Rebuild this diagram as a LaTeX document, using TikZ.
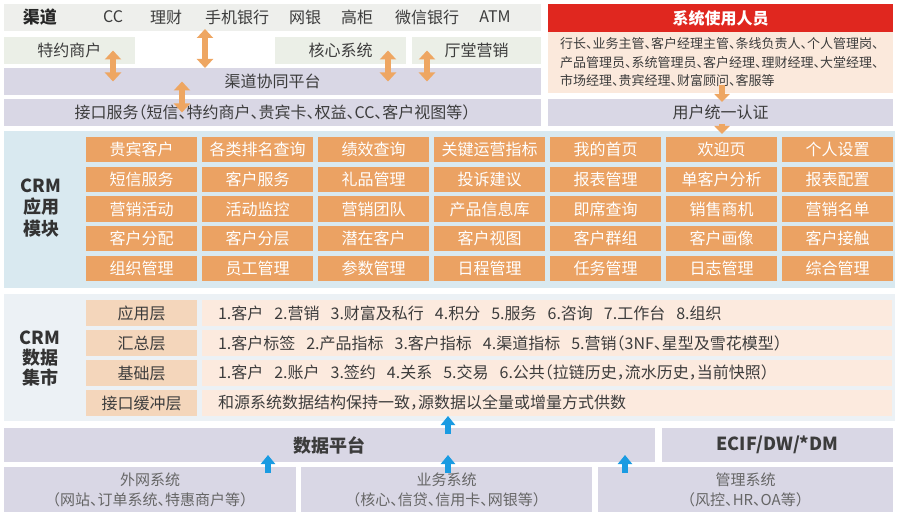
\documentclass[tikz,border=0pt]{standalone}
\usepackage{fontspec}
\setmainfont{Noto Sans CJK SC}[RawFeature={+halt}]
\usepackage{xcolor}
\usepackage{tikz}
\usetikzlibrary{positioning,arrows.meta}

\definecolor{chgray}{HTML}{EEEFEC}
\definecolor{chgreen}{HTML}{EBEFE7}
\definecolor{lav}{HTML}{D9D7E5}
\definecolor{userred}{HTML}{E0271F}
\definecolor{beige}{HTML}{FBE9DC}
\definecolor{cellorg}{HTML}{EBA263}
\definecolor{orarr}{HTML}{EEA662}
\definecolor{modbg}{HTML}{D9E9F0}
\definecolor{martbg}{HTML}{ECF1F5}
\definecolor{lyrlbl}{HTML}{F4D6BB}
\definecolor{lyrcnt}{HTML}{FCEADE}
\definecolor{bluearr}{HTML}{1A9BE2}
\definecolor{txt}{HTML}{3C3C3C}
\definecolor{softtxt}{HTML}{666666}

\newcommand{\gap}{\hspace{11pt}}

\begin{document}
\begin{tikzpicture}[x=1pt, y=-1pt,
    every node/.style={inner sep=0pt, outer sep=0pt, text=txt, font=\fontsize{16}{18}\selectfont},
    panel/.style={anchor=north west, fill=#1},
    cell/.style={anchor=north west, fill=cellorg, minimum width=111, minimum height=25, text=white},
    lyr/.style={anchor=north west, fill=lyrlbl, minimum width=111, minimum height=26},
    lyrtext/.style={anchor=north west, fill=lyrcnt, minimum height=26, text width=658, inner xsep=16pt, align=left},
    sidelabel/.style={font=\bfseries\fontsize{18}{21.5}\selectfont, align=center, text=black!80},
    oarr/.style={draw=orarr, line width=6pt, {Triangle[width=16pt,length=9pt]}-{Triangle[width=16pt,length=9pt]}},
    odn/.style={draw=orarr, line width=6pt, -{Triangle[width=15pt,length=8pt]}},
    bup/.style={draw=bluearr, line width=6pt, -{Triangle[width=14pt,length=9pt]}}]

    \useasboundingbox (0,0) rectangle (900,516);

    % channels
    \node[panel=chgray, minimum width=537, minimum height=27] (qd) at (4,4) {};
    \node[font=\bfseries\fontsize{17}{19}\selectfont, text=black!85] (qdname) at (40,17) {渠道};
    \foreach \t/\x in {CC/113, 理财/166, 手机银行/237, 网银/305, 高柜/357, 微信银行/427, ATM/495}
        \node (ch\x) at (\x,17) {\t};
    \node[panel=chgreen, minimum width=131, minimum height=27] (tysh) at (4,37) {特约商户};
    \node[panel=chgreen, minimum width=131, minimum height=27] (hx) at (275,37) {核心系统};
    \node[panel=chgreen, minimum width=129, minimum height=27] (tt) at (412,37) {厅堂营销};
    \node[panel=lav, minimum width=537, minimum height=27] (xt) at (4,68) {渠道协同平台};
    \node[panel=lav, minimum width=537, minimum height=27] (jk) at (4,99) {接口服务（短信、特约商户、贵宾卡、权益、CC、客户视图等）};

    % users
    \node[panel=userred, minimum width=345, minimum height=28, text=white,
        font=\bfseries\fontsize{16}{18}\selectfont] (usrhead) at (548,4) {系统使用人员};
    \node[panel=beige, minimum height=61, text width=321, inner xsep=12pt, align=left,
        font=\fontsize{13}{18.5}\selectfont] (users) at (548,32)
        {行长、业务主管、客户经理主管、条线负责人、个人管理岗、\\产品管理员、系统管理员、客户经理、理财经理、大堂经理、\\市场经理、贵宾经理、财富顾问、客服等};
    \node[panel=lav, minimum width=345, minimum height=27] (auth) at (548,99) {用户统一认证};

    % CRM modules
    \node[panel=modbg, minimum width=891, minimum height=157] (crm) at (4,131) {};
    \node[sidelabel] (crmname) at (41,208) {CRM\\应用\\模块};
    \foreach \t [count=\i from 0] in {贵宾客户,各类排名查询,绩效查询,关键运营指标,我的首页,欢迎页,个人设置,
        短信服务,客户服务,礼品管理,投诉建议,报表管理,单客户分析,报表配置,
        营销活动,活动监控,营销团队,产品信息库,即席查询,销售商机,营销名单,
        客户分配,客户分层,潜在客户,客户视图,客户群组,客户画像,客户接触,
        组织管理,员工管理,参数管理,日程管理,任务管理,日志管理,综合管理}{
        \pgfmathtruncatemacro{\r}{\i/7}
        \pgfmathtruncatemacro{\c}{mod(\i,7)}
        \node[cell] (m\i) at ({86+116*\c},{137+29.75*\r}) {\t};
    }

    % CRM data mart
    \node[panel=martbg, minimum width=891, minimum height=127] (mart) at (4,294) {};
    \node[sidelabel, font=\bfseries\fontsize{18}{20}\selectfont] (martname) at (40,359) {CRM\\数据\\集市};
    \node[lyr] (l1) at (86,300) {应用层};
    \node[lyr] (l2) at (86,330) {汇总层};
    \node[lyr] (l3) at (86,360) {基础层};
    \node[lyr] (l4) at (86,390) {接口缓冲层};
    \node[lyrtext] (c1) at (202,300) {1.客户\gap 2.营销\gap 3.财富及私行\gap 4.积分\gap 5.服务\gap 6.咨询\gap 7.工作台\gap 8.组织};
    \node[lyrtext] (c2) at (202,330) {1.客户标签\gap 2.产品指标\gap 3.客户指标\gap 4.渠道指标\gap 5.营销（3NF、星型及雪花模型）};
    \node[lyrtext] (c3) at (202,360) {1.客户\gap 2.账户\gap 3.签约\gap 4.关系\gap 5.交易\gap 6.公共（拉链历史，流水历史，当前快照）};
    \node[lyrtext] (buf) at (202,390) {和源系统数据结构保持一致，源数据以全量或增量方式供数};

    % data platform and sources
    \node[panel=lav, minimum width=651, minimum height=34, font=\bfseries\fontsize{18}{20}\selectfont] (dp) at (4,428) {数据平台};
    \node[panel=lav, minimum width=231, minimum height=34, font=\bfseries\fontsize{18}{20}\selectfont] (ecif) at (662,428) {ECIF/DW/*DM};
    \node[panel=lav, minimum width=292, minimum height=45, align=center, text=softtxt,
        font=\fontsize{15}{20}\selectfont] (wai) at (4,467) {外网系统\\（网站、订单系统、特惠商户等）};
    \node[panel=lav, minimum width=291, minimum height=45, align=center, text=softtxt,
        font=\fontsize{15}{20}\selectfont] (yw) at (301,467) {业务系统\\（核心、信贷、信用卡、网银等）};
    \node[panel=lav, minimum width=295, minimum height=45, align=center, text=softtxt,
        font=\fontsize{15}{20}\selectfont] (gl) at (598,467) {管理系统\\（风控、HR、OA等）};

    % arrows
    \coordinate (p1) at (113,0);
    \coordinate (p2) at (205,0);
    \coordinate (p3) at (388,0);
    \coordinate (p4) at (427,0);
    \coordinate (p5) at (182,0);
    \coordinate (p6) at (722,0);
    \draw[oarr] (p1 |- tysh.center) -- (p1 |- xt.center);
    \draw[oarr, shorten <=-2pt] (p2 |- qd.south) -- (p2 |- xt.north);
    \draw[oarr] (p3 |- hx.center) -- (p3 |- xt.center);
    \draw[oarr] (p4 |- tt.center) -- (p4 |- xt.center);
    \draw[oarr] (p5 |- xt.center) -- (p5 |- jk.center);
    \draw[odn, shorten <=-8pt, shorten >=-3pt] (p6 |- users.south) -- (p6 |- auth.north);
    \draw[odn, shorten <=-2pt, shorten >=-3pt] (p6 |- auth.south) -- (p6 |- crm.north);

    \coordinate (q1) at (268,0);
    \coordinate (q2) at (448,0);
    \coordinate (q3) at (625,0);
    \draw[bup, shorten <=-6pt] (q2 |- dp.north) -- (q2 |- buf.south);
    \draw[bup, shorten <=-6pt, shorten >=-7pt] (q1 |- wai.north) -- (q1 |- dp.south);
    \draw[bup, shorten <=-6pt, shorten >=-7pt] (q2 |- yw.north) -- (q2 |- dp.south);
    \draw[bup, shorten <=-6pt, shorten >=-7pt] (q3 |- gl.north) -- (q3 |- dp.south);
\end{tikzpicture}
\end{document}
